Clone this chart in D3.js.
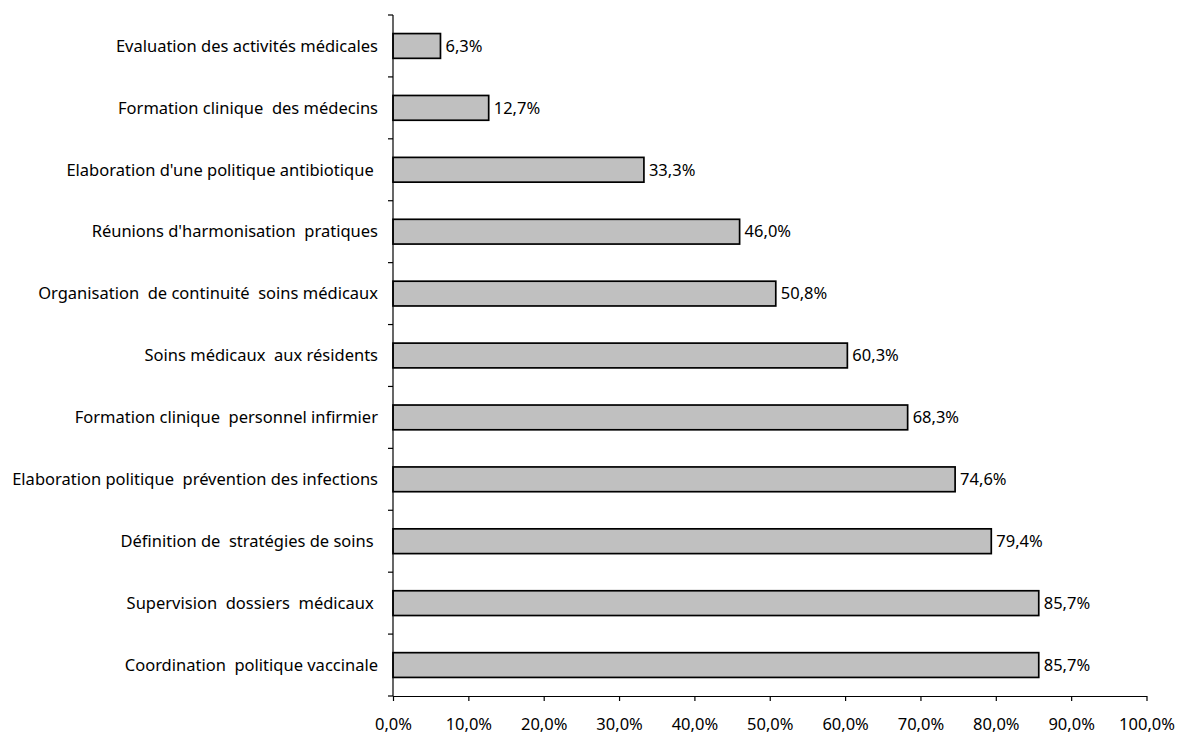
<!DOCTYPE html>
<html>
<head>
<meta charset="utf-8">
<script src="https://cdn.jsdelivr.net/npm/d3@7"></script>
<style>
  body { margin: 0; background: #fff; }
  svg text { font-family: "Noto Sans", "Open Sans", sans-serif; fill: #000; white-space: pre; }
</style>
</head>
<body>
<svg id="chart" width="1179" height="736"></svg>
<script>
// categories, top to bottom
let categories = [
    "Evaluation des activités médicales",
    "Formation clinique  des médecins",
    "Elaboration d'une politique antibiotique ",
    "Réunions d'harmonisation  pratiques",
    "Organisation  de continuité  soins médicaux",
    "Soins médicaux  aux résidents",
    "Formation clinique  personnel infirmier",
    "Elaboration politique  prévention des infections",
    "Définition de  stratégies de soins ",
    "Supervision  dossiers  médicaux ",
    "Coordination  politique vaccinale"
]
let values = [6.3, 12.7, 33.3, 46.0, 50.8, 60.3, 68.3, 74.6, 79.4, 85.7, 85.7]
let xTicks = [0, 10, 20, 30, 40, 50, 60, 70, 80, 90, 100]

let data = categories.map((c, i) => ({ cat: c, value: values[i] }))

let plotVars = ({
    left: 393,
    right: 1146.5,
    top: 15,
    bottom: 696,
    fontSize: "16.5px"
})

let svg = d3.select("#chart")
let fmt = v => d3.format(".1f")(v).replace(".", ",") + "%"

// scales
let xScale = d3.scaleLinear()
    .domain([0, 100])
    .range([plotVars.left, plotVars.right])

let yScale = d3.scaleBand()
    .domain(categories)
    .range([plotVars.top, plotVars.bottom])
    .paddingInner(0.6)
    .paddingOuter(0.3)

// bars
svg.append("g")
    .selectAll("rect")
    .data(data)
    .join("rect")
    .attr("x", xScale(0))
    .attr("y", d => yScale(d.cat))
    .attr("width", d => xScale(d.value) - xScale(0))
    .attr("height", yScale.bandwidth())
    .attr("fill", "#c0c0c0")
    .attr("stroke", "#000")
    .attr("stroke-width", 1.7)

// value labels
svg.append("g")
    .selectAll("text")
    .data(data)
    .join("text")
    .attr("x", d => xScale(d.value) + 5)
    .attr("y", d => yScale(d.cat) + yScale.bandwidth() / 2)
    .attr("dy", "0.35em")
    .style("font-size", plotVars.fontSize)
    .text(d => fmt(d.value))

// x axis
let xAxis = d3.axisBottom(xScale)
    .tickValues(xTicks)
    .tickSize(5)
    .tickSizeOuter(0)
    .tickPadding(17)
    .tickFormat(fmt)

let xAxisGroup = svg.append("g")
    .attr("transform", `translate(0,${plotVars.bottom})`)
    .call(xAxis)
xAxisGroup.select(".domain").attr("stroke", "#000").attr("stroke-width", 1.2)
xAxisGroup.selectAll(".tick line").attr("stroke-width", 1.2)
xAxisGroup.selectAll("text").style("font-size", plotVars.fontSize).attr("font-family", null)

// y axis: line with ticks between categories
let yEdges = d3.range(categories.length + 1).map(i => plotVars.top + i * (plotVars.bottom - plotVars.top) / categories.length)

svg.append("line")
    .attr("x1", plotVars.left).attr("x2", plotVars.left)
    .attr("y1", plotVars.top).attr("y2", plotVars.bottom)
    .attr("stroke", "#000")
    .attr("stroke-width", 1.2)

svg.append("g")
    .selectAll("line")
    .data(yEdges)
    .join("line")
    .attr("x1", plotVars.left - 5).attr("x2", plotVars.left)
    .attr("y1", d => d).attr("y2", d => d)
    .attr("stroke", "#000")
    .attr("stroke-width", 1.2)

// category labels
svg.append("g")
    .attr("text-anchor", "end")
    .selectAll("text")
    .data(data)
    .join("text")
    .attr("x", plotVars.left - 15)
    .attr("y", d => yScale(d.cat) + yScale.bandwidth() / 2)
    .attr("dy", "0.35em")
    .style("font-size", plotVars.fontSize)
    .text(d => d.cat)
</script>
</body>
</html>
